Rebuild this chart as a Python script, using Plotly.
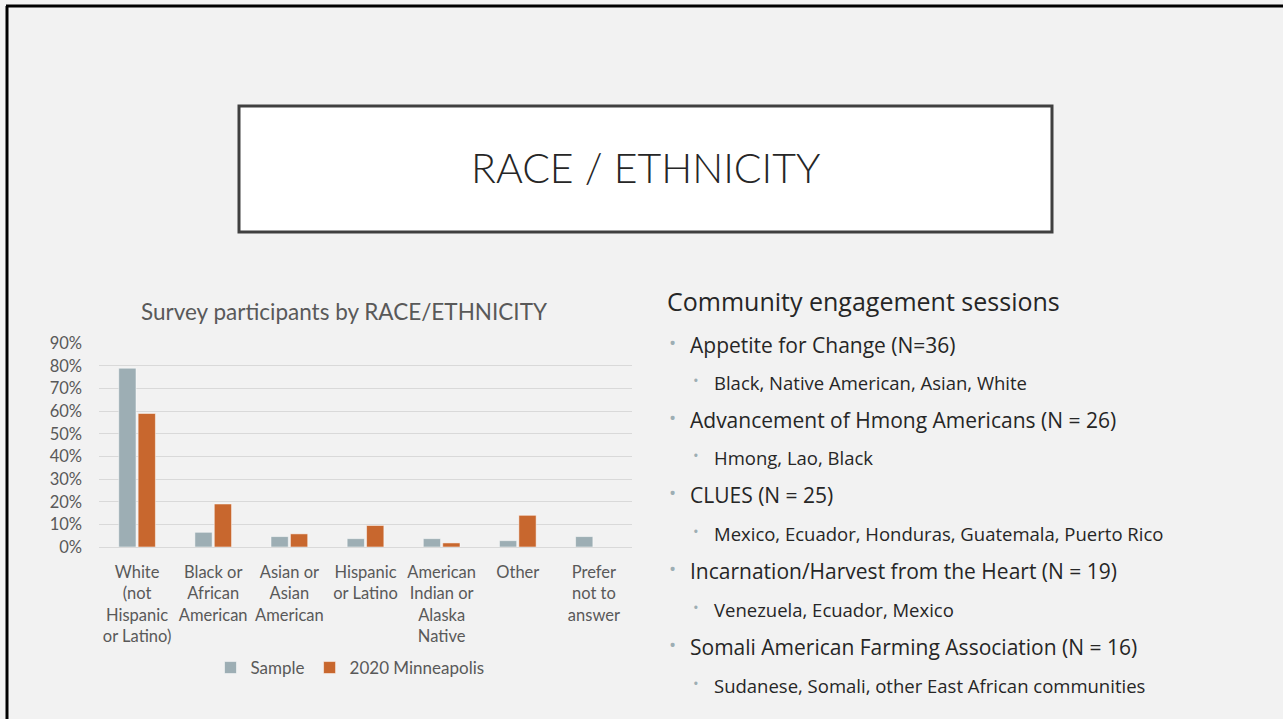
import plotly.graph_objects as go

W, H = 1283, 719

categories = [
    "White<br>(not<br>Hispanic<br>or Latino)",
    "Black or<br>African<br>American",
    "Asian or<br>Asian<br>American",
    "Hispanic<br>or Latino",
    "American<br>Indian or<br>Alaska<br>Native",
    "Other",
    "Prefer<br>not to<br>answer",
]
sample_vals = [0.79, 0.065, 0.046, 0.037, 0.037, 0.028, 0.046]
mpls_vals = [0.59, 0.19, 0.058, 0.095, 0.018, 0.14, None]
y_ticks = [0, 0.1, 0.2, 0.3, 0.4, 0.5, 0.6, 0.7, 0.8, 0.9]

sessions = [
    "Appetite for Change (N=36)",
    "Advancement of Hmong Americans (N = 26)",
    "CLUES (N = 25)",
    "Incarnation/Harvest from the Heart (N = 19)",
    "Somali American Farming Association (N = 16)",
]
session_groups = [
    "Black, Native American, Asian, White",
    "Hmong, Lao, Black",
    "Mexico, Ecuador, Honduras, Guatemala, Puerto Rico",
    "Venezuela, Ecuador, Mexico",
    "Sudanese, Somali, other East African communities",
]

GREY_BLUE = "#9DAEB4"
ORANGE = "#C8672E"
TXT = "#595959"
CHART_FONT = "Lato"
BODY_FONT = "Open Sans"


def px(x):
    return x / W


def py(y):
    return 1 - y / H


fig = go.Figure()
fig.add_trace(go.Bar(
    name="Sample", x=categories, y=sample_vals,
    marker=dict(color=GREY_BLUE, line=dict(color="rgba(255,255,255,0.5)", width=1)),
))
fig.add_trace(go.Bar(
    name="2020 Minneapolis", x=categories, y=mpls_vals,
    marker=dict(color=ORANGE, line=dict(color="rgba(255,255,255,0.5)", width=1)),
))

shapes = [
    # slide border (cropped: only left and top edges visible)
    dict(type="line", xref="paper", yref="paper", x0=px(7), x1=px(7), y0=0, y1=py(6),
         line=dict(color="black", width=3)),
    dict(type="line", xref="paper", yref="paper", x0=px(6), x1=1, y0=py(6), y1=py(6),
         line=dict(color="black", width=3)),
    # title box
    dict(type="rect", xref="paper", yref="paper", x0=px(239), x1=px(1052), y0=py(232), y1=py(106),
         fillcolor="white", line=dict(color="#404040", width=3), layer="below"),
]

annotations = [
    dict(text="RACE / ETHNICITY", x=px(645), y=py(167), xref="paper", yref="paper",
         showarrow=False, xanchor="center", yanchor="middle",
         font=dict(family=CHART_FONT, size=41, color="#262626", weight=300)),
    dict(text="Survey participants by RACE/ETHNICITY", x=px(344), y=py(311), xref="paper", yref="paper",
         showarrow=False, xanchor="center", yanchor="middle",
         font=dict(family=CHART_FONT, size=22.5, color=TXT)),
    dict(text="Community engagement sessions", x=px(665), y=py(301), xref="paper", yref="paper",
         showarrow=False, xanchor="left", yanchor="middle",
         font=dict(family=BODY_FONT, size=25, color="#262626")),
]

l1_y = [345, 420, 495, 571, 647]
l2_y = [382, 457, 533, 609, 685]
for name, grp, y1, y2 in zip(sessions, session_groups, l1_y, l2_y):
    annotations.append(dict(text="•", x=px(672), y=py(y1 - 2), xref="paper", yref="paper",
                            showarrow=False, xanchor="center", yanchor="middle",
                            font=dict(family=BODY_FONT, size=19, color=GREY_BLUE)))
    annotations.append(dict(text=name, x=px(688), y=py(y1), xref="paper", yref="paper",
                            showarrow=False, xanchor="left", yanchor="middle",
                            font=dict(family=BODY_FONT, size=21, color="#262626")))
    annotations.append(dict(text="•", x=px(696), y=py(y2 - 2), xref="paper", yref="paper",
                            showarrow=False, xanchor="center", yanchor="middle",
                            font=dict(family=BODY_FONT, size=15, color=GREY_BLUE)))
    annotations.append(dict(text=grp, x=px(712), y=py(y2), xref="paper", yref="paper",
                            showarrow=False, xanchor="left", yanchor="middle",
                            font=dict(family=BODY_FONT, size=18.5, color="#262626")))

fig.update_layout(
    width=W, height=H,
    margin=dict(l=0, r=0, t=0, b=0, autoexpand=False),
    paper_bgcolor="#F2F2F2",
    plot_bgcolor="#F2F2F2",
    barmode="group",
    bargap=0.49,
    bargroupgap=0.11,
    font=dict(family=CHART_FONT, color=TXT, size=16),
    shapes=shapes,
    annotations=annotations,
    legend=dict(orientation="h", x=px(350), y=py(668), xanchor="center", yanchor="middle",
                font=dict(family=CHART_FONT, size=17, color=TXT),
                bgcolor="rgba(0,0,0,0)", itemwidth=30),
    xaxis=dict(domain=[px(99), px(632)], showgrid=False, zeroline=False,
               showline=True, linecolor="#D9D9D9", linewidth=1, ticks="",
               tickangle=0, tickfont=dict(family=CHART_FONT, size=16.5, color=TXT),
               ticklabelstandoff=10, fixedrange=True),
    yaxis=dict(domain=[py(547), py(343.3)], range=[0, 0.9], tickvals=y_ticks,
               tickformat=".0%", showgrid=True, gridcolor="#D9D9D9", gridwidth=1,
               zeroline=False, showline=False, ticks="",
               tickfont=dict(family=CHART_FONT, size=16.5, color=TXT),
               ticklabelstandoff=16, fixedrange=True),
)

fig.write_html(
    "out.html",
    config={"displayModeBar": False},
    post_script="document.body.style.margin='0';document.body.style.overflow='hidden';",
)
